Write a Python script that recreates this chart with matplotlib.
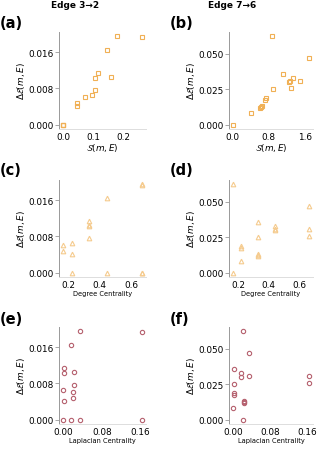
import numpy as np
import matplotlib
matplotlib.use('Agg')
import matplotlib.pyplot as plt
from matplotlib.ticker import FormatStrFormatter

# Edge 3->2 data (one entry per node)
dE_32 = [0, 0, 0, 0, 0.0041, 0.0047, 0.0062, 0.0065, 0.0076, 0.0103, 0.0106, 0.0113, 0.0166, 0.0195, 0.0193]
S_32 = [0, 0, 0, 0, 0.045, 0.0475, 0.072, 0.096, 0.107, 0.105, 0.160, 0.116, 0.146, 0.179, 0.261]
deg_32 = [0.222, 0.444, 0.667, 0.667, 0.222, 0.1667, 0.1667, 0.222, 0.333, 0.333, 0.333, 0.333, 0.444, 0.667, 0.667]
lap_32 = [0.0, 0.0173, 0.0346, 0.163, 0.002, 0.021, 0.021, 0.0, 0.0229, 0.003, 0.0229, 0.003, 0.0173, 0.0346, 0.163]

# Edge 7->6 data
dE_76 = [0, 0.0081, 0.0116, 0.0123, 0.0132, 0.0176, 0.0189, 0.0255, 0.0261, 0.0299, 0.0306, 0.0312, 0.0329, 0.0361, 0.0472, 0.0624]
S_76 = [0, 0.395, 0.61, 0.63, 0.653, 0.703, 0.739, 0.897, 1.284, 1.241, 1.5, 1.27, 1.342, 1.112, 1.693, 0.861]
deg_76 = [0.1667, 0.222, 0.333, 0.333, 0.333, 0.222, 0.222, 0.333, 0.667, 0.444, 0.667, 0.444, 0.444, 0.333, 0.667, 0.1667]
lap_76 = [0.0209, 0.0, 0.023, 0.023, 0.023, 0.0028, 0.0028, 0.0028, 0.164, 0.0174, 0.164, 0.0348, 0.0174, 0.0028, 0.0348, 0.0209]

titles = ['Edge 3\u21922', 'Edge 7\u21926']
panel_labels = ['(a)', '(b)', '(c)', '(d)', '(e)', '(f)']
x_labels = [r'$\mathcal{S}(m,E)$', 'Degree Centrality', 'Laplacian Centrality']
y_label = r'$\Delta\mathcal{E}(m,E)$'

orange = '#f0b055'
light_orange = '#f5cb8e'
rose = '#b5606e'

W, H = 317, 452
fig = plt.figure(figsize=(W / 100, H / 100), dpi=100)

lefts = [59, 229]
widths = [87, 84]
tops = [33, 181, 328]
ah = 97

# x data, marker, colour, marker size, x ticks, tick format
rows = [
    (S_32, S_76, 's', orange, 3.5, [[0, 0.1, 0.2], [0, 0.8, 1.6]], '%.1f'),
    (deg_32, deg_76, '^', light_orange, 3.3, [[0.2, 0.4, 0.6], [0.2, 0.4, 0.6]], '%.1f'),
    (lap_32, lap_76, 'o', rose, 3.1, [[0, 0.08, 0.16], [0, 0.08, 0.16]], '%.2f'),
]
yticks = [[0, 0.008, 0.016], [0, 0.025, 0.05]]
ys = [dE_32, dE_76]

for r, (x1, x2, mk, col, ms, xt, xfmt) in enumerate(rows):
    for c, xs in enumerate([x1, x2]):
        ax = fig.add_axes([lefts[c] / W, 1 - (tops[r] + ah) / H, widths[c] / W, ah / H])
        ax.plot(xs, ys[c], linestyle='none', marker=mk, ms=ms, mfc='none',
                mec=col, mew=0.8)
        ax.set_xticks(xt[c])
        ax.set_yticks(yticks[c])
        ax.xaxis.set_major_formatter(FormatStrFormatter(xfmt))
        ax.yaxis.set_major_formatter(FormatStrFormatter('%.3f'))
        for s in ['top', 'right']:
            ax.spines[s].set_visible(False)
        ax.spines['left'].set_color('#999999')
        ax.spines['left'].set_linewidth(0.7)
        ax.spines['bottom'].set_color('#dddddd')
        ax.spines['bottom'].set_linewidth(0.7)
        ax.tick_params(axis='y', labelsize=6.4, length=3, width=0.6, color='#999999', pad=1)
        ax.tick_params(axis='x', labelsize=6.4, length=0, pad=2)
        ax.set_ylabel(y_label, fontsize=6.4, labelpad=1)
        if r == 0:
            ax.set_xlabel(x_labels[r], fontsize=6.4, labelpad=0)
        else:
            ax.set_xlabel(x_labels[r], fontsize=4.8, labelpad=1)

# titles and panel labels
fig.text(75 / W, 1 - 6 / H, titles[0], ha='center', va='center', fontsize=6.5, fontweight='bold')
fig.text(232 / W, 1 - 6 / H, titles[1], ha='center', va='center', fontsize=6.5, fontweight='bold')
label_y = [23, 171, 320]
for i, lab in enumerate(panel_labels):
    r, c = divmod(i, 2)
    fig.text([0, 170][c] / W, 1 - label_y[r] / H, lab, ha='left', va='center',
             fontsize=10.5, fontweight='bold')

fig.savefig('out.png', dpi=100)
